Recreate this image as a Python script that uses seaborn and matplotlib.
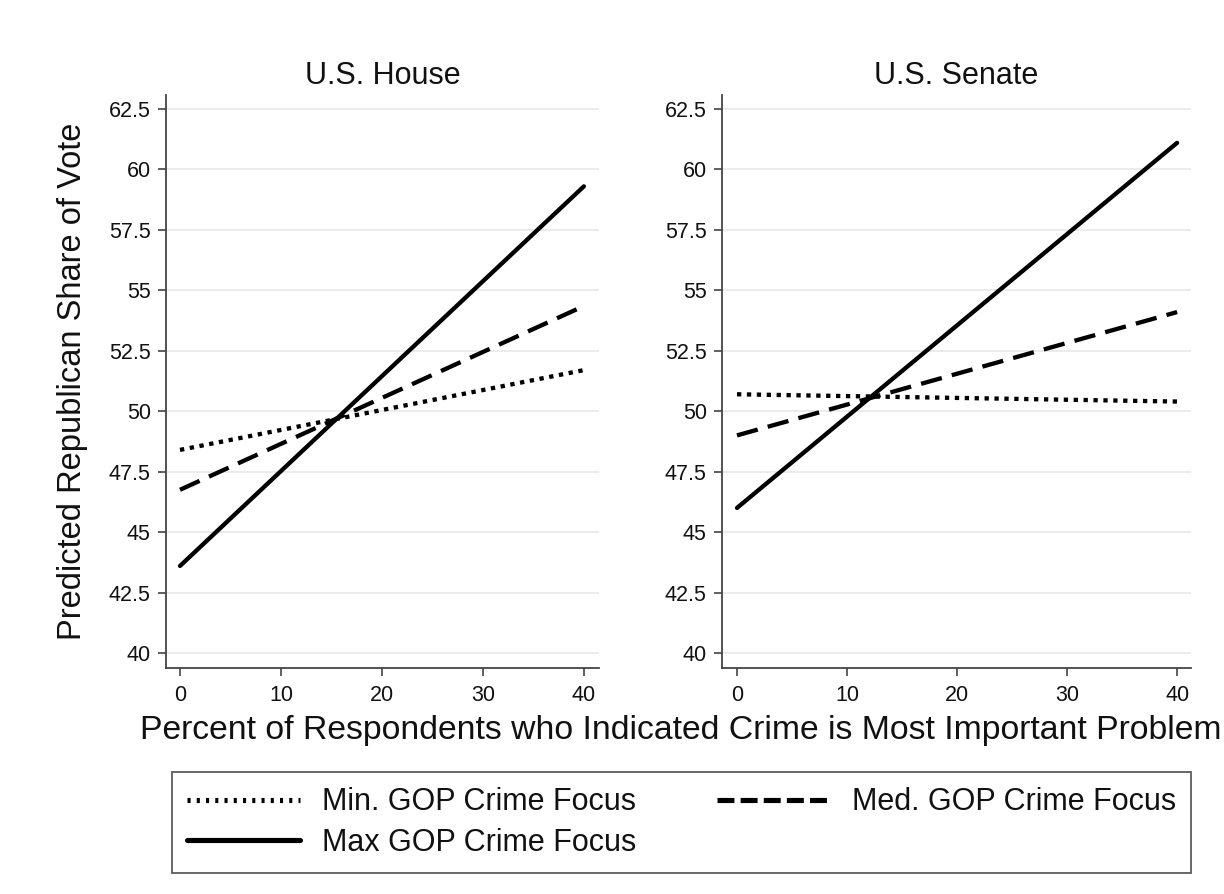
import pandas as pd
import matplotlib.pyplot as plt
import seaborn as sns

# Endpoints of the predicted lines (x = 0 and x = 40)
crime_pct = [0, 40]
series_names = ['Min. GOP Crime Focus', 'Med. GOP Crime Focus', 'Max GOP Crime Focus']
house_min = [48.4, 51.7]
house_med = [46.75, 54.35]
house_max = [43.6, 59.3]
senate_min = [50.7, 50.4]
senate_med = [49.0, 54.1]
senate_max = [46.0, 61.1]
y_ticks = [40, 42.5, 45, 47.5, 50, 52.5, 55, 57.5, 60, 62.5]
y_ticklabels = ['40', '42.5', '45', '47.5', '50', '52.5', '55', '57.5', '60', '62.5']
x_ticks = [0, 10, 20, 30, 40]


def long_df(vals):
    rows = []
    for name, v in zip(series_names, vals):
        for x, y in zip(crime_pct, v):
            rows.append({'x': x, 'y': y, 'series': name})
    return pd.DataFrame(rows)


df_house = long_df([house_min, house_med, house_max])
df_senate = long_df([senate_min, senate_med, senate_max])

sns.set_style('white')
plt.rcParams['font.family'] = ['Liberation Sans', 'DejaVu Sans']

fig = plt.figure(figsize=(12.24, 8.94), dpi=100)
ax1 = fig.add_axes([0.1356, 0.2528, 0.3538, 0.641])
ax2 = fig.add_axes([0.5899, 0.2528, 0.3832, 0.641])

LW = 3.1
dash_map = {series_names[0]: (1.0, 1.3), series_names[1]: (5.0, 2.4), series_names[2]: ''}

for ax, df, title, xl in [(ax1, df_house, 'U.S. House', (-1.39, 41.5)),
                          (ax2, df_senate, 'U.S. Senate', (-1.36, 41.27))]:
    sns.lineplot(data=df, x='x', y='y', style='series', dashes=dash_map,
                 color='black', linewidth=LW, ax=ax, legend=False)
    ax.set_xlim(*xl)
    ax.set_ylim(39.38, 63.08)
    ax.set_yticks(y_ticks)
    ax.set_yticklabels(y_ticklabels)
    ax.set_xticks(x_ticks)
    ax.yaxis.grid(True, color='#e9e9e9', linewidth=1.3)
    ax.set_axisbelow(True)
    for s in ['top', 'right']:
        ax.spines[s].set_visible(False)
    for s in ['left', 'bottom']:
        ax.spines[s].set_color('#444444')
        ax.spines[s].set_linewidth(1.3)
    ax.tick_params(axis='both', direction='out', length=6, width=1.2, color='#444444',
                   labelsize=15.5, labelcolor='#111111', left=True, bottom=True)
    ax.tick_params(axis='x', pad=6)
    ax.tick_params(axis='y', pad=5)
    ax.set_title(title, fontsize=22, pad=8, color='#111111')
    ax.set_xlabel('')
    ax.set_ylabel('')

fig.text(0.059, 0.574, 'Predicted Republican Share of Vote', rotation=90,
         ha='center', va='center', fontsize=23.5, color='#111111')
fig.text(0.5564, 0.183, 'Percent of Respondents who Indicated Crime is Most Important Problem',
         ha='center', va='center', fontsize=24.3, color='#111111')

legend_dashes = {series_names[0]: (0.6, 1.2), series_names[1]: (3.3, 1.2), series_names[2]: None}
handles = []
for n in series_names:
    if legend_dashes[n]:
        handles.append(plt.Line2D([], [], color='black', linewidth=LW + 0.6, dashes=legend_dashes[n]))
    else:
        handles.append(plt.Line2D([], [], color='black', linewidth=LW + 0.6))
order = [0, 2, 1]
leg = fig.legend([handles[i] for i in order], [series_names[i] for i in order],
                 ncol=2, loc='upper left', mode='expand',
                 bbox_to_anchor=(172 / 1224, 1 - 871 / 894, 1019 / 1224, 99 / 894),
                 borderaxespad=0, frameon=True, fancybox=False, fontsize=22,
                 handlelength=3.7, handletextpad=0.7, columnspacing=2.0,
                 labelspacing=0.35, borderpad=0.5)
leg.get_frame().set_edgecolor('#333333')
leg.get_frame().set_linewidth(1.3)
for t in leg.get_texts():
    t.set_color('#111111')

fig.savefig('out.png', dpi=100)
